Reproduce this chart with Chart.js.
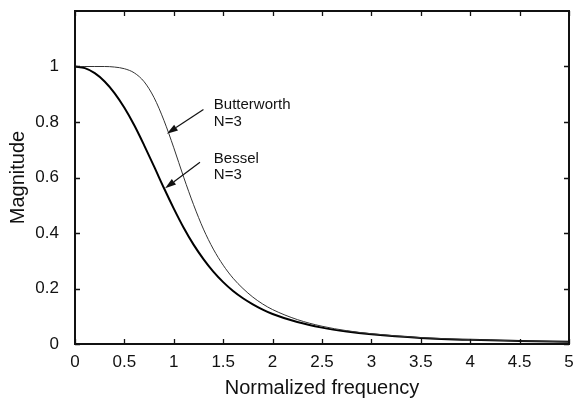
<!DOCTYPE html>
<html>
<head>
<meta charset="utf-8">
<style>
  html, body { margin: 0; padding: 0; background: #fff; }
  #wrap { width: 576px; height: 398px; }
</style>
<script src="https://cdn.jsdelivr.net/npm/chart.js@4.4.1/dist/chart.umd.min.js"></script>
</head>
<body>
<div id="wrap"><canvas id="chart" width="576" height="398"></canvas></div>
<script>
// values
var freq = [0, 0.1, 0.2, 0.3, 0.4, 0.5, 0.6, 0.7, 0.8, 0.9, 1.0, 1.1, 1.2, 1.3, 1.4, 1.5,
            1.6, 1.7, 1.8, 1.9, 2.0, 2.25, 2.5, 2.75, 3, 3.5, 4, 4.5, 5];
var butterworth = [1, 1, 1, 1, 0.998, 0.992, 0.977, 0.945, 0.888, 0.806, 0.707, 0.601, 0.502, 0.414,
                   0.342, 0.284, 0.237, 0.2, 0.169, 0.144, 0.124, 0.088, 0.064, 0.048, 0.037,
                   0.023, 0.016, 0.011, 0.008];
var bessel = [1, 0.994, 0.976, 0.946, 0.904, 0.851, 0.788, 0.716, 0.640, 0.562, 0.488, 0.419, 0.358,
              0.306, 0.261, 0.223, 0.191, 0.165, 0.143, 0.124, 0.108, 0.079, 0.059, 0.045, 0.035,
              0.022, 0.015, 0.011, 0.008];
var xTicks = [0, 0.5, 1, 1.5, 2, 2.5, 3, 3.5, 4, 4.5, 5];
var yTicks = [0, 0.2, 0.4, 0.6, 0.8, 1];

// callouts: label position and arrow (tail -> tip), in data units
var labelX = [1.405, 1.405];
var labelY1 = [0.863, 0.667];
var labelY2 = [0.802, 0.608];
var labelText = ['Butterworth', 'Bessel'];
var arrowTail = [[1.30, 0.845], [1.265, 0.655]];
var arrowTip = [[0.93, 0.758], [0.912, 0.561]];

var FONT = '"Liberation Sans", Arial, Helvetica, sans-serif';

function toPoints(xs, ys) {
    return xs.map(function (x, i) { return { x: x, y: ys[i] }; });
}

var framePlugin = {
    id: 'frame',
    afterDraw: function (chart) {
        var ctx = chart.ctx;
        var a = chart.chartArea;
        var xs = chart.scales.x, ys = chart.scales.y;
        var tl = 5;
        ctx.save();
        ctx.strokeStyle = '#111';
        // inward ticks on all four sides
        ctx.lineWidth = 1.3;
        ctx.beginPath();
        xTicks.forEach(function (v) {
            var px = Math.round(xs.getPixelForValue(v)) + 0.5;
            ctx.moveTo(px, a.bottom); ctx.lineTo(px, a.bottom - tl);
            ctx.moveTo(px, a.top); ctx.lineTo(px, a.top + tl);
        });
        yTicks.forEach(function (v) {
            var py = Math.round(ys.getPixelForValue(v)) + 0.5;
            ctx.moveTo(a.left, py); ctx.lineTo(a.left + tl, py);
            ctx.moveTo(a.right, py); ctx.lineTo(a.right - tl, py);
        });
        ctx.stroke();
        // box
        ctx.lineWidth = 2;
        ctx.strokeRect(a.left, a.top, a.right - a.left, a.bottom - a.top);

        // arrows
        ctx.fillStyle = '#111';
        ctx.lineWidth = 1.2;
        arrowTip.forEach(function (tip, i) {
            var x0 = xs.getPixelForValue(arrowTail[i][0]), y0 = ys.getPixelForValue(arrowTail[i][1]);
            var x1 = xs.getPixelForValue(tip[0]), y1 = ys.getPixelForValue(tip[1]);
            var ang = Math.atan2(y1 - y0, x1 - x0);
            var hl = 11, hw = 3.5;
            var bx = x1 - hl * Math.cos(ang), by = y1 - hl * Math.sin(ang);
            ctx.beginPath();
            ctx.moveTo(x0, y0); ctx.lineTo(bx, by);
            ctx.stroke();
            ctx.beginPath();
            ctx.moveTo(x1, y1);
            ctx.lineTo(bx + hw * Math.sin(ang), by - hw * Math.cos(ang));
            ctx.lineTo(bx - hw * Math.sin(ang), by + hw * Math.cos(ang));
            ctx.closePath();
            ctx.fill();
        });

        // labels
        ctx.font = '15px ' + FONT;
        ctx.textAlign = 'left';
        ctx.textBaseline = 'middle';
        labelText.forEach(function (t, i) {
            var px = xs.getPixelForValue(labelX[i]);
            ctx.fillText(t, px, ys.getPixelForValue(labelY1[i]));
            ctx.fillText('N=3', px, ys.getPixelForValue(labelY2[i]));
        });
        ctx.restore();
    }
};

var ctx = document.getElementById('chart').getContext('2d');
var chart = new Chart(ctx, {
    type: 'line',
    data: {
        datasets: [{
            label: 'Butterworth N=3',
            data: toPoints(freq, butterworth),
            borderColor: '#333',
            borderWidth: 1,
            pointRadius: 0,
            cubicInterpolationMode: 'monotone',
            fill: false
        }, {
            label: 'Bessel N=3',
            data: toPoints(freq, bessel),
            borderColor: '#000',
            borderWidth: 2,
            pointRadius: 0,
            cubicInterpolationMode: 'monotone',
            fill: false
        }]
    },
    options: {
        responsive: false,
        animation: false,
        layout: { padding: { left: 0, right: 7, top: 11, bottom: 0 } },
        plugins: {
            legend: { display: false },
            tooltip: { enabled: false }
        },
        scales: {
            x: {
                type: 'linear',
                min: 0,
                max: 5,
                grid: { display: false },
                border: { display: false },
                afterBuildTicks: function (scale) {
                    scale.ticks = xTicks.map(function (v) { return { value: v }; });
                },
                afterFit: function (scale) {
                    scale.height = 54;
                    scale.paddingLeft = 0;
                    scale.paddingRight = 0;
                },
                ticks: {
                    padding: 0,
                    color: '#111',
                    font: { family: FONT, size: 17 },
                    maxRotation: 0,
                    callback: function (v) { return String(v); }
                },
                title: {
                    display: true,
                    text: 'Normalized frequency',
                    color: '#111',
                    font: { family: FONT, size: 20, lineHeight: 1 },
                    padding: { top: 0, bottom: 0 }
                }
            },
            y: {
                type: 'linear',
                min: 0,
                max: 1.2,
                grid: { display: false },
                border: { display: false },
                afterBuildTicks: function (scale) {
                    scale.ticks = yTicks.map(function (v) { return { value: v }; });
                },
                afterFit: function (scale) {
                    scale.width = 75;
                    scale.paddingTop = 0;
                    scale.paddingBottom = 0;
                },
                ticks: {
                    padding: 8,
                    color: '#111',
                    font: { family: FONT, size: 17 },
                    callback: function (v) { return String(v); }
                },
                title: {
                    display: true,
                    text: 'Magnitude',
                    color: '#111',
                    font: { family: FONT, size: 20, lineHeight: 1 },
                    padding: { top: 8, bottom: 0 }
                }
            }
        }
    },
    plugins: [framePlugin]
});
</script>
</body>
</html>
